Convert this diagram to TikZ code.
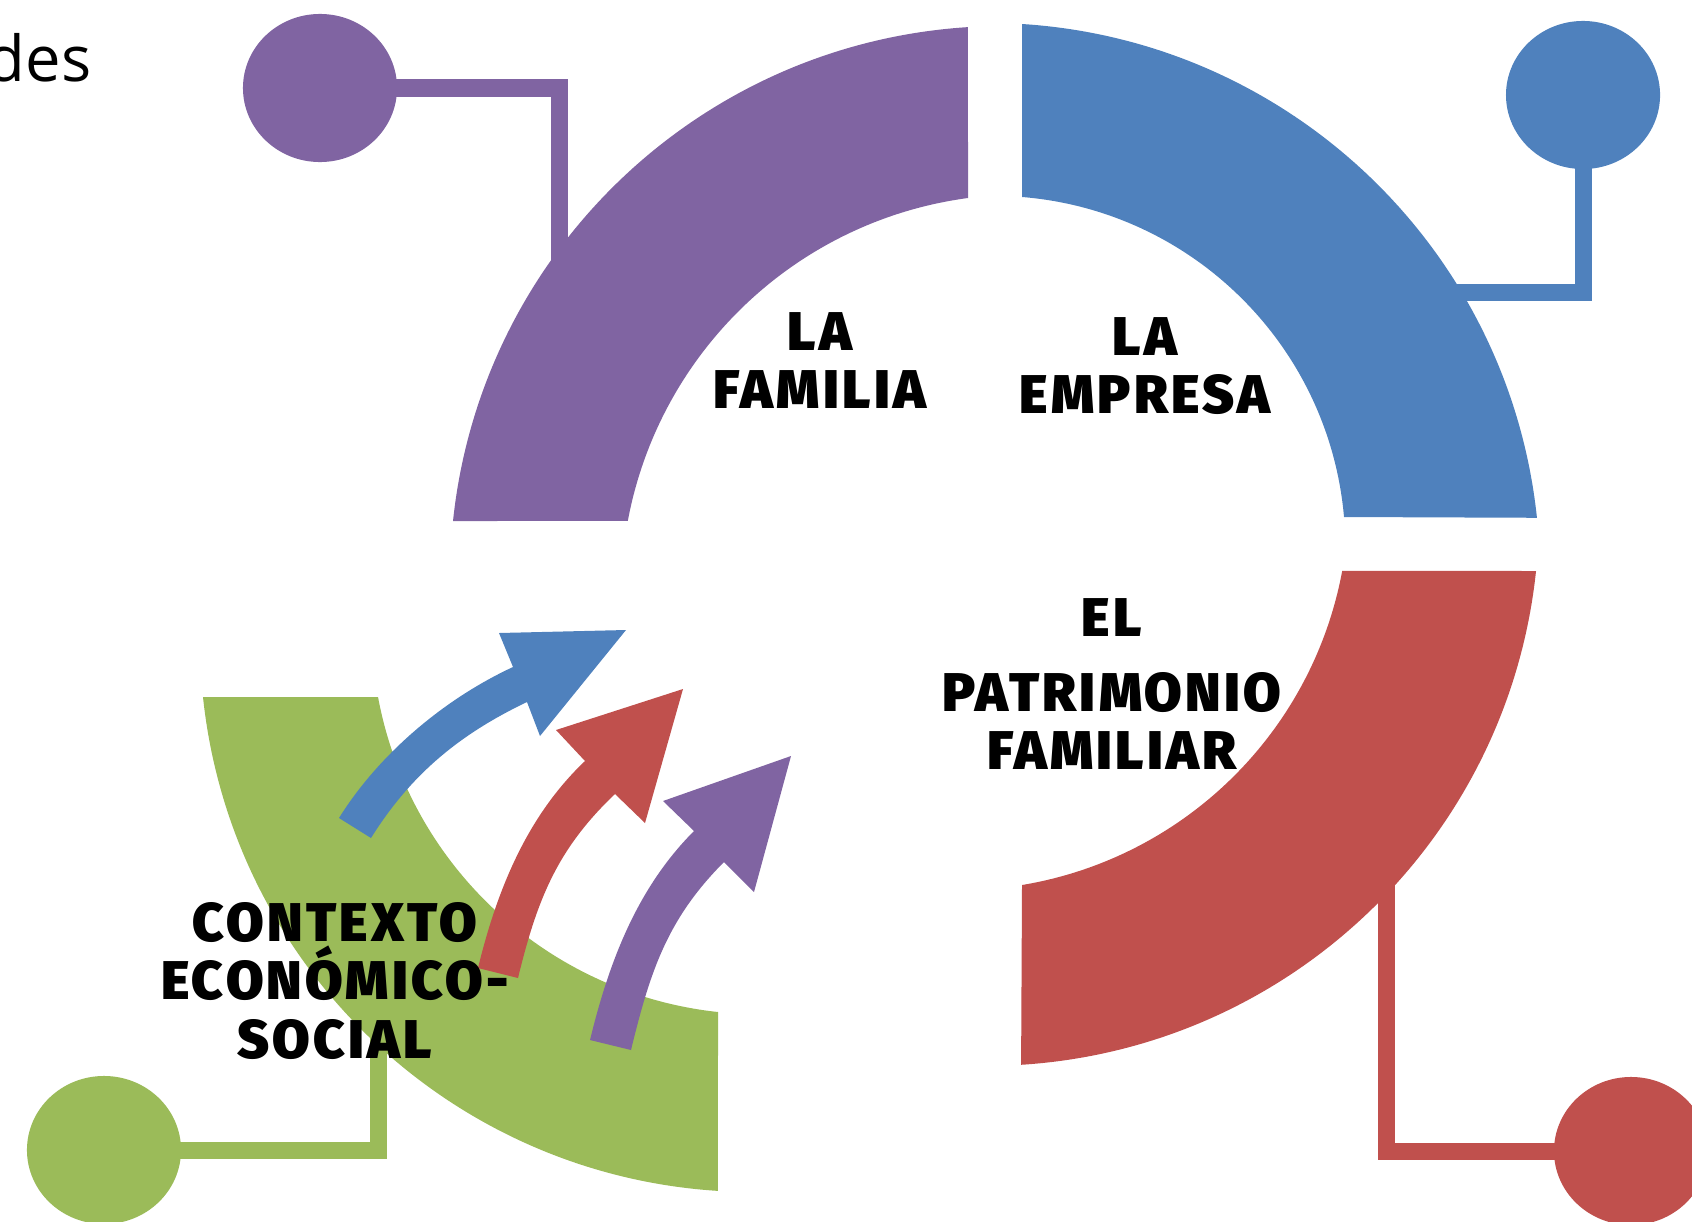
\documentclass[tikz,border=0pt]{standalone}
\usepackage{fontspec}
\usetikzlibrary{shapes.geometric}
\newfontfamily\boxfont{Fira Sans Black}[LetterSpace=6]
\newfontfamily\thinfont{Open Sans}
\definecolor{famcol}{HTML}{8064A2}
\definecolor{empcol}{HTML}{4F81BD}
\definecolor{patcol}{HTML}{C0504D}
\definecolor{ctxcol}{HTML}{9BBB59}

\begin{document}
\begin{tikzpicture}[x=0.01cm,y=-0.01cm]
  \tikzset{dot/.style={ellipse,fill=#1,minimum width=1.54cm,minimum height=1.48cm,inner sep=0}}
  \tikzset{link/.style={draw=#1,line width=0.17cm}}
  \tikzset{lbl/.style={font=\boxfont\fontsize{15.5}{16.5}\selectfont,align=center,inner sep=0}}
  \useasboundingbox (0,0) rectangle (1692,1221);

  % the four arc bands
  \fill[famcol] (453,521) arc[start angle=186.02,end angle=266.37,radius=553]
    -- (968,198) arc[start angle=262.39,end angle=190.59,radius=400] -- cycle;
  \fill[empcol] (1022,24) arc[start angle=-86.37,end angle=-6.03,radius=553]
    -- (1344,517) arc[start angle=-5.02,end angle=-85.32,radius=352] -- cycle;
  \fill[patcol] (1536,571) arc[start angle=6.03,end angle=86.37,radius=553]
    -- (1022,885) arc[start angle=80.55,end angle=10.54,radius=391] -- cycle;
  \fill[ctxcol] (203,697) arc[start angle=173.98,end angle=93.63,radius=553]
    -- (718,1012) arc[start angle=96.14,end angle=169.49,radius=388] -- cycle;

  % dots and their links
  \node[dot=famcol] (famdot) at (320,88) {};
  \node[dot=empcol] (empdot) at (1583,95) {};
  \node[dot=patcol] (patdot) at (1631,1151) {};
  \node[dot=ctxcol] (ctxdot) at (104,1150) {};
  \coordinate (famend) at (559,280);
  \coordinate (empend) at (1440,292);
  \coordinate (patend) at (1386,880);
  \coordinate (ctxend) at (378,1030);
  \draw[link=famcol] (famdot.center) -| (famend);
  \draw[link=empcol] (empdot.center) |- (empend);
  \draw[link=patcol] (patdot.center) -| (patend);
  \draw[link=ctxcol] (ctxdot.center) -| (ctxend);

  % curved arrows
  \fill[empcol] (339,818) .. controls (379,754) and (444,699) .. (513,667) -- (499,633) -- (626,630)
    -- (540,736) -- (527,702) .. controls (460,734) and (411,774) .. (371,838) -- cycle;
  \fill[patcol] (478,968) .. controls (497,890) and (527,816) .. (585,761) -- (556,730) -- (683,689)
    -- (645,823) -- (615,794) .. controls (557,849) and (537,900) .. (518,978) -- cycle;
  \fill[famcol] (590,1040) .. controls (609,962) and (637,888) .. (694,831) -- (663,801) -- (791,756)
    -- (754,892) -- (724,862) .. controls (667,919) and (650,972) .. (631,1050) -- cycle;

  % labels
  \node[lbl] (famtxt) at (820,361) {LA\\FAMILIA};
  \node[lbl] (emptxt) at (1145,366) {LA\\EMPRESA};
  \node[lbl] (pattxt) at (1112,684) {EL\\[4.8pt]PATRIMONIO\\FAMILIAR};
  \node[lbl] (ctxtxt) at (335,981) {CONTEXTO\\ECONÓMICO-\\SOCIAL};
  \node[font=\thinfont\fontsize{18}{21}\selectfont,anchor=base east,inner sep=0] (des) at (92,81) {des};
\end{tikzpicture}
\end{document}
